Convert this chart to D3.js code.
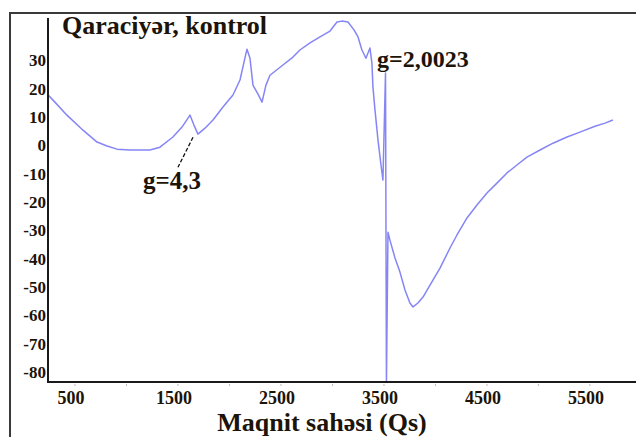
<!DOCTYPE html>
<html>
<head>
<meta charset="utf-8">
<script src="https://cdn.jsdelivr.net/npm/d3@7"></script>
<style>
  html, body { margin: 0; padding: 0; background: #fff; }
  svg { display: block; }
  text { font-family: "Liberation Serif", "Times New Roman", serif; font-weight: bold; fill: #1c1408; }
</style>
</head>
<body>
<svg id="chart" width="636" height="437"></svg>
<script>
// EPR spectrum of liver tissue (control): field in Gauss, signal in arbitrary units
const field = [240, 305, 422, 578, 714, 811, 908, 1034, 1228, 1325, 1451, 1539, 1617, 1655, 1694,
  1762, 1840, 1937, 2034, 2102, 2141, 2170, 2199, 2228, 2277, 2316, 2354, 2393, 2519, 2617,
  2684, 2782, 2879, 2976, 3044, 3092, 3150, 3209, 3248, 3286, 3325, 3364, 3383, 3393, 3413,
  3442, 3471, 3490, 3515, 3524, 3539, 3558, 3607, 3655, 3704, 3752, 3782, 3830, 3879, 3947,
  4044, 4141, 4209, 4306, 4403, 4500, 4597, 4694, 4791, 4888, 5015, 5141, 5277, 5403, 5549,
  5646, 5723];
const signal = [17.8, 15.3, 10.7, 5.4, 1.2, -0.2, -1.3, -1.6, -1.6, -0.6, 3.0, 6.5, 10.7, 7.2, 4.0,
  6.1, 9.0, 13.6, 17.8, 23.1, 29.4, 34.0, 30.8, 21.3, 18.1, 15.3, 21.3, 24.8, 28.4, 31.2,
  33.7, 36.2, 38.3, 40.4, 43.6, 43.9, 43.6, 40.8, 38.3, 33.7, 30.8, 34.4, 29.1, 20.6, 12.5,
  1.9, -6.9, -12.2, 25.6, -84, -30.6, -33.4, -39.7, -44.7, -51.0, -55.6, -57.0, -55.6, -53.5, -49.3,
  -43.3, -36.2, -31.6, -25.6, -21.0, -16.8, -13.3, -9.7, -6.9, -4.1, -1.6, 0.8, 3.0, 4.7, 6.8,
  7.9, 9.0];

const xTicks = [500, 1000, 1500, 2000, 2500, 3000, 3500, 4000, 4500, 5000, 5500];
const xTickLabels = [500, 1500, 2500, 3500, 4500, 5500];
const yTickLabels = [30, 20, 10, 0, -10, -20, -30, -40, -50, -60, -70, -80];

const titleText = "Qaraciyər, kontrol";
const xAxisTitle = "Maqnit sahəsi (Qs)";
const annotations = [
  { text: "g=4,3", at: [1646, 2.9], end: [1500, -7.7], dx: -35, dy: 22 },
  { text: "g=2,0023", at: [3520, 25.6], end: null, dx: -9, dy: -6 }
];

const svg = d3.select("#chart");
const mLeft = 48, mRight = 636, mTop = 18, mBottom = 382;

const x = d3.scaleLinear().domain([238, 5947]).range([mLeft, mRight]);
const y = d3.scaleLinear().domain([-83.5, 45]).range([mBottom, mTop]);

// outer frame (top and left edges)
svg.append("path")
  .attr("d", `M10,437 L10,13 L636,13`)
  .attr("fill", "none").attr("stroke", "#3a3a3a").attr("stroke-width", 2);

svg.append("clipPath").attr("id", "plotclip")
  .append("rect").attr("x", mLeft).attr("y", mTop - 6).attr("width", mRight - mLeft).attr("height", mBottom - mTop + 6);

// spectrum
const pts = field.map((f, i) => [f, signal[i]]);
const line = d3.line().x(d => x(d[0])).y(d => y(d[1]));
svg.append("path")
  .datum(pts)
  .attr("clip-path", "url(#plotclip)")
  .attr("d", line)
  .attr("fill", "none")
  .attr("stroke", "#7070f4")
  .attr("stroke-opacity", 0.85)
  .attr("stroke-width", 1.5)
  .attr("stroke-linejoin", "round");

// x axis: faint minor ticks under the axis line
svg.append("g").selectAll("line").data(xTicks).join("line")
  .attr("x1", d => x(d)).attr("x2", d => x(d))
  .attr("y1", mBottom + 2).attr("y2", mBottom + 4)
  .attr("stroke", "#bbb").attr("stroke-width", 1);

svg.append("line")
  .attr("x1", mLeft).attr("x2", mRight).attr("y1", mBottom).attr("y2", mBottom)
  .attr("stroke", "#1a1a1a").attr("stroke-width", 2);
svg.append("line")
  .attr("x1", mLeft).attr("x2", mLeft).attr("y1", mTop).attr("y2", mBottom + 1)
  .attr("stroke", "#1a1a1a").attr("stroke-width", 2);

svg.append("g").selectAll("text").data(xTickLabels).join("text")
  .attr("x", d => x(d) - 4)
  .attr("y", 404)
  .attr("text-anchor", "middle")
  .attr("font-size", 18)
  .text(d => d);

svg.append("g").selectAll("text").data(yTickLabels).join("text")
  .attr("x", mLeft - 2)
  .attr("y", d => y(d))
  .attr("dy", "0.35em")
  .attr("text-anchor", "end")
  .attr("font-size", 17)
  .text(d => d);

svg.append("text")
  .attr("x", 62).attr("y", 34)
  .attr("font-size", 26)
  .text(titleText);

svg.append("text")
  .attr("x", 322).attr("y", 431)
  .attr("text-anchor", "middle")
  .attr("font-size", 26)
  .text(xAxisTitle);

// g-factor annotations
annotations.forEach(a => {
  if (a.end) {
    svg.append("line")
      .attr("x1", x(a.at[0])).attr("y1", y(a.at[1]))
      .attr("x2", x(a.end[0])).attr("y2", y(a.end[1]))
      .attr("stroke", "#111").attr("stroke-width", 1.3)
      .attr("stroke-dasharray", "4,2");
    svg.append("text")
      .attr("x", x(a.end[0]) + a.dx).attr("y", y(a.end[1]) + a.dy)
      .attr("font-size", 25)
      .text(a.text);
  } else {
    svg.append("text")
      .attr("x", x(a.at[0]) + a.dx).attr("y", y(a.at[1]) + a.dy)
      .attr("font-size", 24)
      .text(a.text);
  }
});
</script>
</body>
</html>
